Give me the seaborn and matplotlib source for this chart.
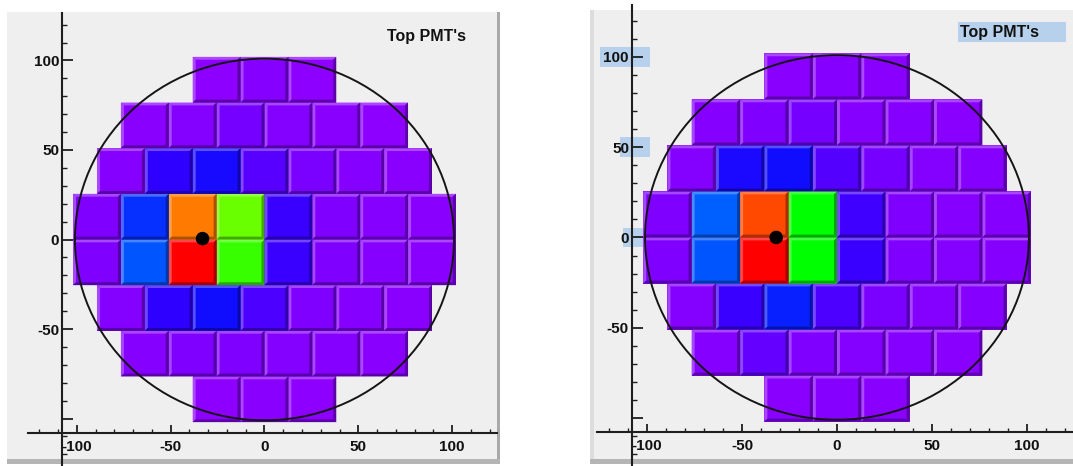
import numpy as np
import matplotlib
matplotlib.use("Agg")
import matplotlib.pyplot as plt
import seaborn as sns
from matplotlib.colors import LinearSegmentedColormap
from matplotlib.collections import PolyCollection
from matplotlib.patches import Circle, Rectangle
from matplotlib.ticker import MultipleLocator, FixedLocator

# ---------------------------------------------------------------------------
# Hit pattern on the top PMT array (48 tubes, rows listed from top to bottom).
# Values are the normalised signal seen by each tube.
# ---------------------------------------------------------------------------
left_rows = [
    [0.04, 0.06, 0.04],
    [0.05, 0.07, 0.10, 0.07, 0.05, 0.04],
    [0.06, 0.22, 0.26, 0.15, 0.09, 0.06, 0.05],
    [0.08, 0.32, 0.90, 0.66, 0.20, 0.08, 0.06, 0.05],
    [0.08, 0.36, 1.00, 0.63, 0.20, 0.08, 0.06, 0.05],
    [0.07, 0.22, 0.27, 0.17, 0.08, 0.06, 0.05],
    [0.06, 0.08, 0.08, 0.07, 0.06, 0.05],
    [0.04, 0.05, 0.04],
]
right_rows = [
    [0.05, 0.06, 0.05],
    [0.06, 0.08, 0.10, 0.06, 0.06, 0.05],
    [0.07, 0.25, 0.27, 0.16, 0.10, 0.07, 0.06],
    [0.08, 0.37, 0.95, 0.60, 0.19, 0.08, 0.06, 0.06],
    [0.08, 0.36, 1.00, 0.60, 0.20, 0.08, 0.07, 0.06],
    [0.07, 0.20, 0.30, 0.17, 0.09, 0.07, 0.06],
    [0.06, 0.13, 0.08, 0.07, 0.06, 0.05],
    [0.05, 0.06, 0.05],
]

# Reconstructed interaction position (x, y) for each event
left_vertex_x, left_vertex_y = [-33.0], [0.5]
right_vertex_x, right_vertex_y = [-32.0], [0.0]

panel_title = "Top PMT's"
tick_values = [-100, -50, 0, 50, 100]
y_tick_labels = ["", "-50", "0", "50", "100"]
x_tick_labels = ["-100", "-50", "0", "50", "100"]

# Geometry of the array
PITCH = 25.5          # tube pitch (mm)
VESSEL_R = 101.0      # radius of the cryostat outline (mm)
AXIS_AT = -108.0      # where the two axis lines cross

sns.set_theme(style="ticks")
plt.rcParams["font.family"] = ["Liberation Sans", "DejaVu Sans"]
plt.rcParams["font.weight"] = "bold"

# ROOT-like rainbow palette
palette = LinearSegmentedColormap.from_list(
    "pmt_rainbow",
    [
        (0.00, (0.60, 0.00, 1.00)),
        (0.08, (0.50, 0.00, 1.00)),
        (0.15, (0.34, 0.00, 1.00)),
        (0.22, (0.18, 0.00, 1.00)),
        (0.28, (0.04, 0.06, 1.00)),
        (0.36, (0.00, 0.33, 1.00)),
        (0.45, (0.00, 0.80, 1.00)),
        (0.55, (0.00, 1.00, 0.30)),
        (0.60, (0.00, 1.00, 0.00)),
        (0.66, (0.42, 1.00, 0.00)),
        (0.78, (1.00, 1.00, 0.00)),
        (0.88, (1.00, 0.56, 0.00)),
        (0.95, (1.00, 0.30, 0.00)),
        (1.00, (1.00, 0.00, 0.00)),
    ],
)

W, H = 1073, 466
fig = plt.figure(figsize=(W / 100, H / 100), dpi=100)
fig.patch.set_facecolor("white")


def px_rect(x0, y0, x1, y1, **kw):
    """Figure-level rectangle given in pixel units measured from the top-left."""
    fig.patches.append(Rectangle((x0 / W, 1 - y1 / H), (x1 - x0) / W, (y1 - y0) / H,
                                 transform=fig.transFigure, figure=fig, **kw))


# canvas pads
px_rect(7, 12, 500, 462, facecolor="#efefef", edgecolor="none", zorder=-5)
px_rect(497, 12, 500, 462, facecolor="#a9a9a9", edgecolor="none", zorder=-5)
px_rect(7, 459, 500, 464, facecolor="#b5b5b5", edgecolor="none", zorder=-5)
px_rect(590, 10, 1073, 462, facecolor="#efefef", edgecolor="none", zorder=-5)
px_rect(590, 10, 594, 462, facecolor="#dcdcdc", edgecolor="none", zorder=-5)
px_rect(590, 459, 1073, 464, facecolor="#b5b5b5", edgecolor="none", zorder=-5)


def draw_array(ax, rows, vx, vy):
    nrows = len(rows)
    bars = []
    for r, vals in enumerate(rows):
        n = len(vals)
        xc = (np.arange(n) - (n - 1) / 2) * PITCH
        y0 = (nrows / 2 - 1 - r) * PITCH
        cont = ax.bar(xc, PITCH, width=PITCH, bottom=y0,
                      color=palette(np.asarray(vals)), edgecolor="none",
                      linewidth=0, zorder=2)
        bars.extend(cont.patches)

    # bevelled edges on each tube: light top/left, dark bottom/right
    b = 1.6
    light_polys, light_cols, dark_polys, dark_cols = [], [], [], []
    for p in bars:
        x0, y0 = p.get_x(), p.get_y()
        x1, y1 = x0 + p.get_width(), y0 + p.get_height()
        rgb = np.array(p.get_facecolor()[:3])
        lt = rgb + (1 - rgb) * 0.28
        dk = rgb * 0.66
        light_polys.append([(x0, y0), (x0 + b, y0 + b), (x0 + b, y1 - b), (x0, y1)])
        light_polys.append([(x0, y1), (x0 + b, y1 - b), (x1 - b, y1 - b), (x1, y1)])
        light_cols += [lt, lt]
        dark_polys.append([(x1, y1), (x1 - b, y1 - b), (x1 - b, y0 + b), (x1, y0)])
        dark_polys.append([(x0, y0), (x0 + b, y0 + b), (x1 - b, y0 + b), (x1, y0)])
        dark_cols += [dk, dk]
    ax.add_collection(PolyCollection(light_polys, facecolors=light_cols,
                                     edgecolors="none", zorder=3))
    ax.add_collection(PolyCollection(dark_polys, facecolors=dark_cols,
                                     edgecolors="none", zorder=3))

    ax.add_patch(Circle((0, 0), VESSEL_R, fill=False, edgecolor="#151515",
                        linewidth=1.4, zorder=4))
    sns.scatterplot(x=vx, y=vy, color="black", s=95, edgecolor="none",
                    ax=ax, zorder=5, legend=False)


def style_axes(ax, xlim, ylim):
    ax.set_zorder(1)
    ax.set_xlim(*xlim)
    ax.set_ylim(*ylim)
    ax.patch.set_visible(False)
    for s in ("top", "right"):
        ax.spines[s].set_visible(False)
    for s in ("left", "bottom"):
        ax.spines[s].set_position(("data", AXIS_AT))
        ax.spines[s].set_linewidth(1.5)
        ax.spines[s].set_color("#1e1e1e")
        ax.spines[s].set_zorder(6)
    ax.xaxis.set_major_locator(FixedLocator(tick_values))
    ax.yaxis.set_major_locator(FixedLocator(tick_values))
    ax.set_xticklabels(x_tick_labels)
    ax.set_yticklabels(y_tick_labels)
    ax.xaxis.set_minor_locator(MultipleLocator(10))
    ax.yaxis.set_minor_locator(MultipleLocator(10))
    ax.tick_params(axis="x", which="major", direction="in", length=5.5, width=1.3,
                   color="#1e1e1e", pad=5, labelsize=11, labelcolor="#111111")
    ax.tick_params(axis="x", which="minor", direction="in", length=3, width=1.0,
                   color="#1e1e1e")
    ax.tick_params(axis="y", which="major", direction="in", length=8, width=1.3,
                   color="#1e1e1e", pad=2, labelsize=11, labelcolor="#111111")
    ax.tick_params(axis="y", which="minor", direction="in", length=3.5, width=1.0,
                   color="#1e1e1e")
    for lab in ax.get_xticklabels() + ax.get_yticklabels():
        lab.set_fontweight("bold")
    ax.set_xlabel("")
    ax.set_ylabel("")


# left event
axL = fig.add_axes([28 / W, 0.0, 469 / W, 453 / H])
draw_array(axL, left_rows, left_vertex_x, left_vertex_y)
style_axes(axL, (-126.0, 123.9), (-126.5, 126.5))
fig.text(387 / W, 1 - 37 / H, panel_title, fontsize=11.5, fontweight="bold",
         color="#111111", ha="left", va="center", zorder=3)

# right event
axR = fig.add_axes([597 / W, 0.0, 476 / W, 461 / H])
draw_array(axR, right_rows, right_vertex_x, right_vertex_y)
style_axes(axR, (-126.3, 124.2), (-126.6, 128.8))

# selection highlights on the right-hand pad (behind the tick labels)
hl = "#b7d0ec"
for t, xl in ((100, -124.5), (50, -114.0), (0, -112.5)):
    axR.add_patch(Rectangle((xl, t - 5.5), -98.5 - xl, 11.0, facecolor=hl,
                            edgecolor="none", zorder=0.1, clip_on=False))
px_rect(958, 22, 1066, 42, facecolor=hl, edgecolor="none", zorder=-4)
fig.text(960 / W, 1 - 32 / H, panel_title, fontsize=11.5, fontweight="bold",
         color="#111111", ha="left", va="center", zorder=3)

fig.savefig("out.png", dpi=100)
